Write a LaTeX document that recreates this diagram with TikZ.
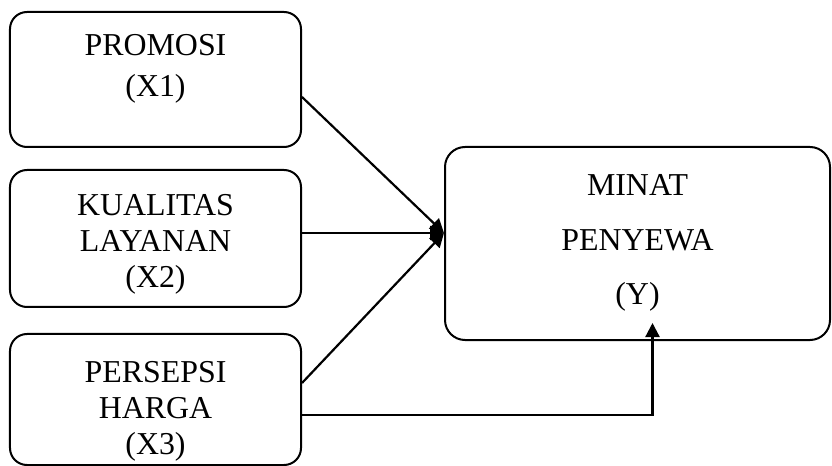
\documentclass[tikz,border=0pt]{standalone}
\usepackage{fontspec}
\setmainfont{Liberation Serif}
\usetikzlibrary{positioning}
\usetikzlibrary{arrows.meta}
\usetikzlibrary{calc}

\begin{document}
\begin{tikzpicture}[x=1bp, y=-1bp,
  varbox/.style={draw, line width=2bp, rounded corners=17bp, minimum width=291bp, inner sep=0pt},
  vartext/.style={align=center, inner sep=0pt},
  panah/.style={line width=2.2bp, -{Triangle[length=14bp,width=14bp]}}]

\useasboundingbox (0,0) rectangle (832,466);

\node[varbox, minimum height=135bp] (x1) at (155.5,79.5) {};
\node[varbox, minimum height=137bp] (x2) at (155.5,238.5) {};
\node[varbox, minimum height=131bp] (x3) at (155.5,399.5) {};
\node[varbox, minimum width=385bp, minimum height=193bp, rounded corners=20bp] (y) at (637.5,243.5) {};

\node[vartext, font=\fontsize{32}{41}\selectfont, below=23bp of x1.north] (t1) {PROMOSI\\(X1)};
\node[vartext, font=\fontsize{32}{36}\selectfont, below=25bp of x2.north] (t2) {KUALITAS\\LAYANAN\\(X2)};
\node[vartext, font=\fontsize{32}{36}\selectfont, below=28bp of x3.north] (t3) {PERSEPSI\\HARGA\\(X3)};
\node[vartext, font=\fontsize{32}{55}\selectfont, below=28bp of y.north] (ty) {MINAT\\PENYEWA\\(Y)};

\coordinate (m) at ([yshift=10.5bp]y.west);
\draw[panah] ([yshift=-17.5bp]x1.east) -- (m);
\draw[panah] (x2.east |- m) -- (m);
\draw[panah] ([yshift=16.5bp]x3.east) -- (m);

\coordinate (ujung) at ([xshift=15bp, yshift=18bp]y.south);
\draw[panah] ([yshift=-15.5bp]x3.east) -| (ujung);

\end{tikzpicture}
\end{document}
